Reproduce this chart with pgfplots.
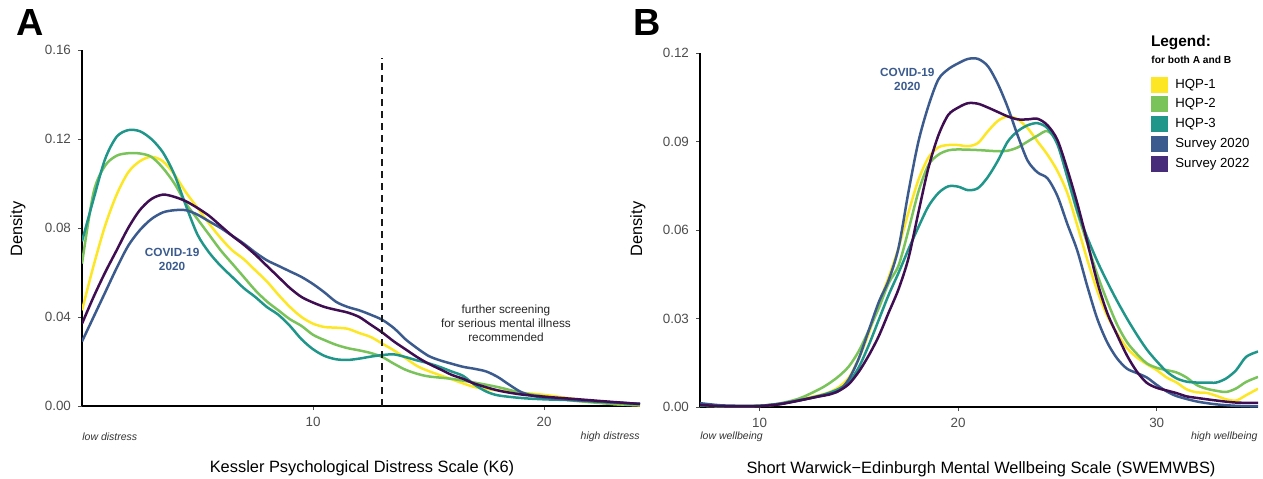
\documentclass[border=0pt]{standalone}
\usepackage{pgfplots}
\pgfplotsset{compat=1.18}
\usepackage{fontspec}
\setmainfont{Liberation Sans}
\definecolor{cA}{HTML}{FDE725}
\definecolor{cB}{HTML}{79C35A}
\definecolor{cC}{HTML}{20968A}
\definecolor{cD}{HTML}{3B5B8E}
\definecolor{cE}{HTML}{3F0D52}
\definecolor{cEleg}{HTML}{472C7A}
\definecolor{tickgray}{HTML}{4D4D4D}
\begin{document}
\begin{tikzpicture}
\useasboundingbox (0,0) rectangle (631.5pt,239pt);
\pgfplotsset{
  common/.style={
    scale only axis, width=279pt,
    axis x line=bottom, axis y line=left,
    axis line style={-, line width=1pt, black},
    tick style={tickgray, line width=0.5pt},
    tick align=outside, major tick length=2pt,
    ticklabel style={font=\fontsize{6.7}{8}\selectfont, text=tickgray},
    /pgf/number format/assume math mode=true,
    scaled y ticks=false,
    yticklabel style={/pgf/number format/fixed, /pgf/number format/fixed zerofill, /pgf/number format/precision=2},
    xticklabel style={/pgf/number format/fixed, /pgf/number format/precision=0},
    every axis plot/.append style={line width=1.25pt, smooth, no markers},
  }
}
% ---------------- Panel A ----------------
\begin{axis}[common, at={(41pt,36pt)}, anchor=south west, height=178pt,
  xmin=0, xmax=24.15, ymin=0, ymax=0.16,
  xtick={10,20}, ytick={0,0.04,0.08,0.12,0.16}]
\addplot[cA] coordinates {(0,0.043)(0.5,0.063)(1,0.081)(1.5,0.095)(2,0.105)(2.5,0.110)(3,0.112)(3.5,0.110)(4,0.104)(4.5,0.096)(5,0.089)(5.5,0.082)(6,0.0755)(6.5,0.070)(7,0.066)(7.5,0.061)(8,0.056)(8.5,0.050)(9,0.0445)(9.5,0.040)(10,0.037)(10.5,0.0355)(11,0.0352)(11.5,0.0347)(12,0.0328)(12.5,0.031)(13,0.028)(13.5,0.025)(14,0.0215)(14.5,0.018)(15,0.0157)(16,0.012)(17,0.0085)(18,0.007)(19,0.006)(20,0.005)(21,0.0036)(22,0.0022)(23,0.0009)(24.15,0.0003)};
\addplot[cB] coordinates {(0,0.064)(0.5,0.096)(1,0.108)(1.5,0.1125)(2,0.1136)(2.5,0.1135)(3,0.112)(3.5,0.107)(4,0.100)(4.5,0.091)(5,0.084)(5.5,0.077)(6,0.070)(6.5,0.064)(7,0.058)(7.5,0.052)(8,0.047)(8.5,0.043)(9,0.039)(9.5,0.036)(10,0.032)(10.5,0.0296)(11,0.0275)(11.5,0.026)(12,0.025)(12.5,0.0238)(13,0.022)(13.5,0.019)(14,0.0163)(14.5,0.0145)(15,0.0133)(16,0.0122)(17,0.0105)(18,0.0085)(19,0.006)(20,0.0043)(21,0.0027)(22,0.0017)(23,0.0009)(24.15,0.0004)};
\addplot[cC] coordinates {(0,0.074)(0.5,0.093)(1,0.111)(1.5,0.121)(2,0.124)(2.5,0.1235)(3,0.120)(3.5,0.114)(4,0.104)(4.5,0.090)(5,0.077)(5.5,0.069)(6,0.063)(6.5,0.058)(7,0.053)(7.5,0.049)(8,0.0445)(8.5,0.041)(9,0.036)(9.5,0.030)(10,0.0255)(10.5,0.0225)(11,0.021)(11.5,0.0207)(12,0.0213)(12.5,0.0222)(13,0.0229)(13.5,0.0232)(14,0.022)(14.5,0.0205)(15,0.0192)(15.5,0.0175)(16,0.0155)(16.5,0.0135)(17,0.0095)(17.5,0.0065)(18,0.0048)(19,0.0036)(20,0.003)(21,0.0027)(22,0.0022)(23,0.0016)(24.15,0.0009)};
\addplot[cD] coordinates {(0,0.029)(0.5,0.040)(1,0.051)(1.5,0.062)(2,0.072)(2.5,0.079)(3,0.084)(3.5,0.087)(4,0.088)(4.5,0.088)(5,0.086)(5.5,0.083)(6,0.080)(6.5,0.0765)(7,0.073)(7.5,0.069)(8,0.0655)(8.5,0.063)(9,0.0605)(9.5,0.058)(10,0.0548)(10.5,0.051)(11,0.0468)(11.5,0.0445)(12,0.043)(12.5,0.041)(13,0.0387)(13.5,0.035)(14,0.030)(14.5,0.026)(15,0.0225)(15.5,0.0205)(16,0.019)(16.5,0.0176)(17,0.0167)(17.5,0.0155)(18,0.013)(18.5,0.0095)(19,0.0063)(19.5,0.0046)(20,0.0038)(21,0.0029)(22,0.0022)(23,0.0016)(24.15,0.001)};
\addplot[cE] coordinates {(0,0.037)(0.5,0.049)(1,0.060)(1.5,0.070)(2,0.080)(2.5,0.088)(3,0.093)(3.5,0.095)(4,0.094)(4.5,0.092)(5,0.089)(5.5,0.0855)(6,0.081)(6.5,0.0765)(7,0.0725)(7.5,0.068)(8,0.063)(8.5,0.058)(9,0.053)(9.5,0.049)(10,0.0465)(10.5,0.0445)(11,0.0432)(11.5,0.042)(12,0.040)(12.5,0.0365)(13,0.033)(13.5,0.029)(14,0.0255)(14.5,0.022)(15,0.019)(15.5,0.0165)(16,0.014)(16.5,0.0122)(17,0.010)(18,0.007)(19,0.0052)(20,0.0042)(21,0.0034)(22,0.0026)(23,0.0018)(24.15,0.0009)};
\addplot[black!90, line width=1pt, dash pattern=on 3.5pt off 2.5pt, sharp plot] coordinates {(13,0)(13,0.1566)};
\node[align=center, font=\bfseries\fontsize{5.9}{7}\selectfont, text=cD] at (axis cs:3.9,0.0659) {COVID-19\\2020};
\node[align=center, font=\fontsize{5.9}{7}\selectfont, text=black!85] at (axis cs:18.35,0.0372) {further screening\\for serious mental illness\\recommended};
\end{axis}
% ---------------- Panel B ----------------
\begin{axis}[common, at={(350pt,35.5pt)}, anchor=south west, height=177pt,
  xmin=7, xmax=35.1, ymin=0, ymax=0.12,
  xtick={10,20,30}, ytick={0,0.03,0.06,0.09,0.12}]
\addplot[cA] coordinates {(7,0.0005)(8,0.0003)(9,0.0003)(10,0.0004)(11,0.001)(12,0.0025)(13,0.004)(13.5,0.005)(14,0.0068)(14.5,0.010)(15,0.0165)(15.5,0.025)(16,0.035)(16.5,0.044)(17,0.054)(17.5,0.066)(18,0.077)(18.5,0.0845)(19,0.088)(19.5,0.0888)(20,0.0888)(20.5,0.0884)(21,0.0895)(21.5,0.0935)(22,0.097)(22.5,0.0985)(23,0.0975)(23.5,0.0945)(24,0.090)(24.5,0.0855)(25,0.080)(25.5,0.0725)(26,0.0615)(26.5,0.050)(27,0.0395)(27.5,0.031)(28,0.025)(28.5,0.020)(29,0.0168)(29.5,0.0145)(30,0.0125)(30.5,0.010)(31,0.0083)(31.5,0.006)(32,0.005)(32.5,0.0048)(33,0.0038)(33.5,0.0026)(34,0.0022)(34.5,0.004)(35.1,0.0062)};
\addplot[cB] coordinates {(7,0.0005)(8,0.0003)(9,0.0003)(10,0.0004)(11,0.0012)(12,0.0029)(13,0.006)(13.5,0.008)(14,0.0105)(14.5,0.0138)(15,0.019)(15.5,0.026)(16,0.0335)(16.5,0.042)(17,0.048)(17.5,0.060)(18,0.073)(18.5,0.082)(19,0.0855)(19.5,0.087)(20,0.0873)(21,0.0871)(22,0.0867)(22.5,0.0869)(23,0.088)(23.5,0.090)(24,0.092)(24.5,0.0935)(25,0.0895)(25.5,0.078)(26,0.066)(26.5,0.0555)(27,0.045)(27.5,0.036)(28,0.028)(28.5,0.022)(29,0.018)(29.5,0.0148)(30,0.0133)(30.5,0.0125)(31,0.0117)(31.5,0.0100)(32,0.0075)(32.5,0.0062)(33,0.0055)(33.5,0.0051)(34,0.0063)(34.5,0.0085)(35.1,0.0102)};
\addplot[cC] coordinates {(7,0.0005)(8,0.0003)(9,0.0003)(10,0.0004)(11,0.001)(12,0.0022)(13,0.0038)(13.5,0.0048)(14,0.0062)(14.5,0.0085)(15,0.0135)(15.5,0.021)(16,0.0295)(16.5,0.038)(17,0.0455)(17.5,0.0535)(18,0.061)(18.5,0.068)(19,0.0725)(19.5,0.0748)(20,0.0747)(20.5,0.0735)(21,0.0742)(21.5,0.078)(22,0.0835)(22.5,0.090)(23,0.0935)(23.5,0.0955)(24,0.0962)(24.5,0.0945)(25,0.089)(25.5,0.078)(26,0.0665)(26.5,0.0575)(27,0.0495)(27.5,0.0425)(28,0.036)(28.5,0.030)(29,0.0245)(29.5,0.0195)(30,0.0155)(30.5,0.012)(31,0.0097)(31.5,0.0086)(32,0.0083)(32.5,0.0083)(33,0.0083)(33.5,0.0097)(34,0.0125)(34.5,0.017)(35.1,0.0188)};
\addplot[cD] coordinates {(7,0.0013)(8,0.0006)(9,0.0004)(10,0.0004)(11,0.0011)(12,0.0023)(13,0.0036)(13.5,0.0044)(14,0.0055)(14.5,0.0095)(15,0.0165)(15.5,0.026)(16,0.0355)(16.5,0.043)(17,0.054)(17.5,0.073)(18,0.090)(18.5,0.102)(19,0.111)(19.5,0.1145)(20,0.1165)(20.5,0.118)(21,0.118)(21.5,0.1155)(22,0.1095)(22.5,0.1015)(23,0.092)(23.5,0.0835)(24,0.0795)(24.5,0.0775)(25,0.0715)(25.5,0.062)(26,0.053)(26.5,0.041)(27,0.030)(27.5,0.022)(28,0.0165)(28.5,0.013)(29,0.0115)(29.5,0.0100)(30,0.0075)(30.5,0.0053)(31,0.0037)(32,0.0019)(33,0.0009)(34,0.0004)(35.1,0.0002)};
\addplot[cE] coordinates {(7,0.0007)(8,0.0003)(9,0.0002)(10,0.0003)(11,0.0009)(12,0.0022)(13,0.0036)(13.5,0.0042)(14,0.0055)(14.5,0.0078)(15,0.012)(15.5,0.0175)(16,0.024)(16.5,0.032)(17,0.040)(17.5,0.0505)(18,0.066)(18.5,0.081)(19,0.092)(19.5,0.099)(20,0.1015)(20.5,0.103)(21,0.1028)(21.5,0.1015)(22,0.100)(22.5,0.0985)(23,0.0975)(23.5,0.0975)(24,0.0977)(24.5,0.0955)(25,0.0905)(25.5,0.0805)(26,0.069)(26.5,0.056)(27,0.0425)(27.5,0.032)(28,0.0245)(28.5,0.0175)(29,0.012)(29.5,0.0082)(30,0.0065)(30.5,0.0056)(31,0.0047)(31.5,0.0036)(32,0.0031)(33,0.0022)(34,0.0015)(35.1,0.0014)};
\node[align=center, font=\bfseries\fontsize{5.9}{7}\selectfont, text=cD] at (axis cs:17.44,0.1112) {COVID-19\\2020};
\end{axis}
% ---------------- Texts ----------------
\node[font=\bfseries\fontsize{18.9}{20}\selectfont] at (15pt,228pt) {A};
\node[font=\bfseries\fontsize{18.9}{20}\selectfont] at (323.5pt,228pt) {B};
\node[rotate=90, font=\fontsize{8.2}{10}\selectfont] at (9pt,124.5pt) {Density};
\node[rotate=90, font=\fontsize{8.2}{10}\selectfont] at (319pt,124.5pt) {Density};
\node[font=\fontsize{8.2}{10}\selectfont] at (181pt,5pt) {Kessler Psychological Distress Scale (K6)};
\node[font=\fontsize{8.2}{10}\selectfont] at (490.5pt,4.5pt) {Short Warwick\textminus Edinburgh Mental Wellbeing Scale (SWEMWBS)};
\node[anchor=west, inner sep=0pt, font=\itshape\fontsize{5.25}{6}\selectfont, text=black!80] at (41pt,20.5pt) {low distress};
\node[anchor=east, inner sep=0pt, font=\itshape\fontsize{5.25}{6}\selectfont, text=black!80] at (320pt,20.5pt) {high distress};
\node[anchor=west, inner sep=0pt, font=\itshape\fontsize{5.25}{6}\selectfont, text=black!80] at (350pt,20.5pt) {low wellbeing};
\node[anchor=east, inner sep=0pt, font=\itshape\fontsize{5.25}{6}\selectfont, text=black!80] at (629pt,20.5pt) {high wellbeing};
% legend
\node[anchor=west, inner sep=0pt, font=\bfseries\fontsize{7.7}{9}\selectfont] at (575.3pt,217.5pt) {Legend:};
\node[anchor=west, inner sep=0pt, font=\bfseries\fontsize{5.1}{6}\selectfont] at (575.5pt,209pt) {for both A and B};
\foreach \c/\t/\yy in {cA/HQP-1/196.5, cB/HQP-2/187, cC/HQP-3/177, cD/Survey 2020/167, cEleg/Survey 2022/157}{
  \fill[\c] (575.5pt,\yy pt-4pt) rectangle (583.8pt,\yy pt+4pt);
  \node[anchor=west, inner sep=0pt, font=\fontsize{6.6}{8}\selectfont] at (587.5pt,\yy pt) {\t};
}
\end{tikzpicture}
\end{document}
